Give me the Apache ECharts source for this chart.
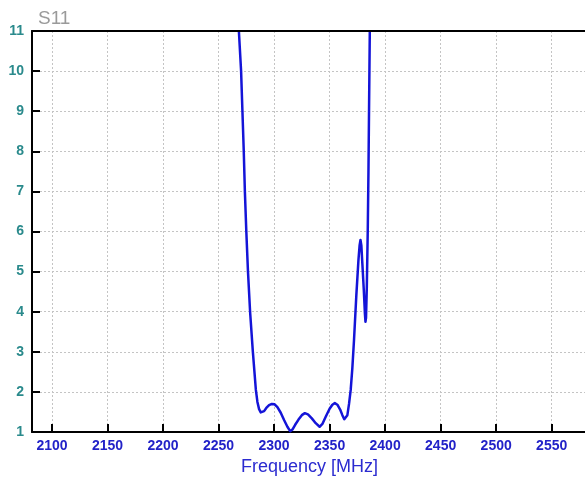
<!DOCTYPE html>
<html>
<head>
<meta charset="utf-8">
<script src="https://cdn.jsdelivr.net/npm/echarts@6/dist/echarts.min.js"></script>
<style>html,body{margin:0;padding:0;background:#fff;}#c{width:585px;height:482px;}</style>
</head>
<body>
<div id="c"></div>
<script>
var freqs = [2268.3, 2270.3, 2271.5, 2272.7, 2273.7, 2275.0, 2276.5, 2278.4, 2280.9, 2283.6, 2285.0, 2286.5, 2288.0, 2289.0, 2291.0, 2293.0, 2295.5, 2298.0, 2300.5, 2303.0, 2306.0, 2309.0, 2312.0, 2314.5, 2316.5, 2319.0, 2322.0, 2325.0, 2327.7, 2330.5, 2334.0, 2337.5, 2341.0, 2343.5, 2346.5, 2350.0, 2352.5, 2354.7, 2357.0, 2359.5, 2361.5, 2363.2, 2364.5, 2366.0, 2367.5, 2369.0, 2370.5, 2372.0, 2374.1, 2376.0, 2377.0, 2377.8, 2378.6, 2379.5, 2380.8, 2381.8, 2382.3, 2382.8, 2383.5, 2384.4, 2385.0, 2385.5, 2386.2];
var vswr = [11.0, 10.0, 9.0, 8.0, 7.0, 6.0, 5.0, 4.0, 3.0, 2.05, 1.75, 1.57, 1.49, 1.48, 1.52, 1.60, 1.67, 1.70, 1.69, 1.62, 1.48, 1.30, 1.13, 1.02, 1.06, 1.18, 1.31, 1.42, 1.47, 1.44, 1.34, 1.22, 1.13, 1.20, 1.38, 1.58, 1.68, 1.72, 1.68, 1.56, 1.42, 1.32, 1.30, 1.42, 1.70, 2.05, 2.60, 3.30, 4.42, 5.30, 5.65, 5.79, 5.65, 5.20, 4.54, 3.95, 3.75, 3.85, 4.60, 6.10, 7.50, 8.99, 11.0];
var xTickLabels = [2100, 2150, 2200, 2250, 2300, 2350, 2400, 2450, 2500, 2550];
var yTickLabels = [1, 2, 3, 4, 5, 6, 7, 8, 9, 10, 11];
var title = 'S11';
var xName = 'Frequency [MHz]';

var data = freqs.map(function (f, i) { return [f, vswr[i]]; });
var chart = echarts.init(document.getElementById('c'), null, {renderer: 'canvas'});
var font = '"Liberation Sans", Arial, sans-serif';
chart.setOption({
  animation: false,
  backgroundColor: '#fff',
  title: {
    text: title, left: 33, top: 4,
    textStyle: {color: '#9a9a9a', fontSize: 19, fontWeight: 'normal', fontFamily: font}
  },
  grid: {left: 32, top: 31, right: -2, bottom: 50, containLabel: false, outerBoundsMode: 'none',
    show: false},
  xAxis: [{
    type: 'value', min: 2082, max: 2581.8, interval: 50,
    name: xName, nameLocation: 'middle', nameGap: 25,
    nameTextStyle: {color: '#2b2bd0', fontSize: 18, fontFamily: font},
    axisLine: {show: true, lineStyle: {color: '#000', width: 2}},
    axisTick: {show: true, inside: true, length: 8, lineStyle: {color: '#000', width: 2},
      customValues: xTickLabels},
    axisLabel: {color: '#2222c8', fontWeight: 'bold', fontSize: 14, fontFamily: font, margin: 7,
      customValues: xTickLabels, formatter: function (v) { return String(v); }},
    splitLine: {show: true, lineStyle: {color: '#c4c4c4', type: [2, 2], width: 1}}
  }, {
    type: 'value', position: 'top', min: 2082, max: 2581.8, z: 10,
    axisLine: {show: true, onZero: false, lineStyle: {color: '#000', width: 2}},
    axisTick: {show: false}, axisLabel: {show: false}, splitLine: {show: false}
  }],
  yAxis: {
    type: 'value', min: 1, max: 11, interval: 1,
    axisLine: {show: true, lineStyle: {color: '#000', width: 2}},
    axisTick: {show: true, inside: true, length: 8, lineStyle: {color: '#000', width: 2}},
    axisLabel: {color: '#2a8a8c', fontWeight: 'bold', fontSize: 14, fontFamily: font, margin: 8,
      customValues: yTickLabels, formatter: function (v) { return String(v); }},
    splitLine: {show: true, lineStyle: {color: '#c4c4c4', type: [2, 2], width: 1}}
  },
  series: [{
    type: 'line', data: data, smooth: false, showSymbol: false, clip: true, xAxisIndex: 0,
    lineStyle: {color: '#1414d8', width: 2.5, join: 'round'}
  }]
});
</script>
</body>
</html>
